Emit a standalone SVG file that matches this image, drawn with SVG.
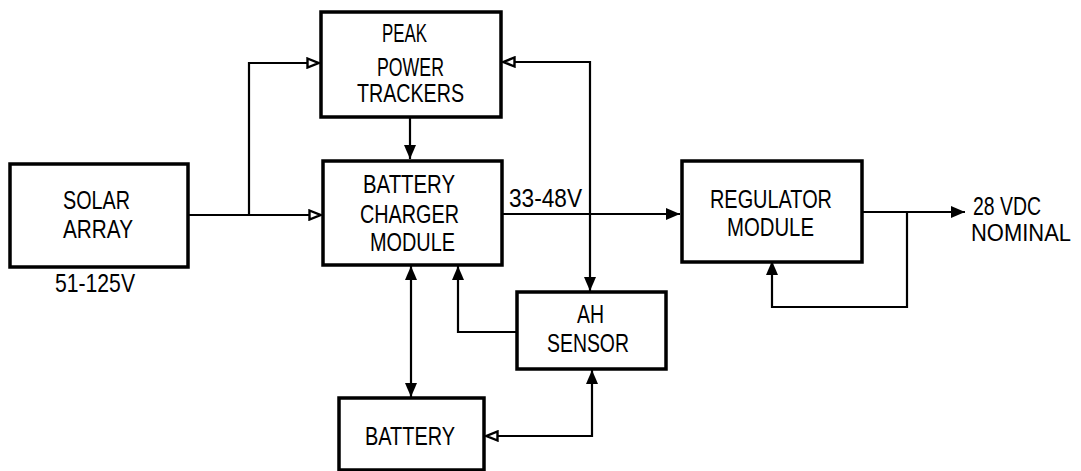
<svg xmlns="http://www.w3.org/2000/svg" width="1081" height="471" viewBox="0 0 1081 471">
<style>
.box{fill:#fff;stroke:#000;stroke-width:3.5}
.t{font-family:"Liberation Sans",Arial,sans-serif;font-size:25px;fill:#000}
.s{font-size:23px}
.c{fill:none;stroke:#000;stroke-width:2.2}
</style>
<defs>
<marker id="af" viewBox="0 0 14 12" refX="14" refY="6" markerWidth="14" markerHeight="12" markerUnits="userSpaceOnUse" orient="auto-start-reverse">
<path d="M0,0 L14,6 L0,12 z" fill="#000"/>
</marker>
<marker id="ah" viewBox="0 0 14 12" refX="13" refY="6" markerWidth="14" markerHeight="12" markerUnits="userSpaceOnUse" orient="auto-start-reverse">
<path d="M1.5,1.5 L12.5,6 L1.5,10.5 z" fill="#fff" stroke="#000" stroke-width="2.4"/>
</marker>
</defs>
<rect width="1081" height="471" fill="#fff"/>
<g id="connectors">
<path class="c" d="M188,215 H321" marker-end="url(#ah)"/>
<path class="c" d="M249,215 V63 H319" marker-end="url(#ah)"/>
<path class="c" d="M410,117 V159" marker-end="url(#af)"/>
<path class="c" d="M503,62 H590 V291" marker-start="url(#ah)" marker-end="url(#af)"/>
<path class="c" d="M502,214 H680" marker-end="url(#af)"/>
<path class="c" d="M411,266 V397" marker-start="url(#af)" marker-end="url(#af)"/>
<path class="c" d="M517,332 H458 V266" marker-end="url(#af)"/>
<path class="c" d="M486,436 H592 V370" marker-start="url(#ah)" marker-end="url(#af)"/>
<path class="c" d="M862,212 H965" marker-end="url(#af)"/>
<path class="c" d="M907,212 V307 H772 V261" marker-end="url(#af)"/>
</g>
<g id="solar-array">
<rect class="box" x="10" y="164" width="178" height="103"/>
<text class="t" x="63" y="209" textLength="67" lengthAdjust="spacingAndGlyphs">SOLAR</text>
<text class="t" x="63" y="238" textLength="70" lengthAdjust="spacingAndGlyphs">ARRAY</text>
</g>
<text class="t" x="55" y="292" textLength="80" lengthAdjust="spacingAndGlyphs">51-125V</text>
<g id="peak-power-trackers">
<rect class="box" x="321" y="12" width="180" height="105"/>
<text class="t" x="382" y="42" textLength="45" lengthAdjust="spacingAndGlyphs">PEAK</text>
<text class="t" x="377" y="76" textLength="67" lengthAdjust="spacingAndGlyphs">POWER</text>
<text class="t" x="357" y="102" textLength="107" lengthAdjust="spacingAndGlyphs">TRACKERS</text>
</g>
<g id="battery-charger-module">
<rect class="box" x="323" y="161" width="179" height="104"/>
<text class="t" x="363" y="193" textLength="92" lengthAdjust="spacingAndGlyphs">BATTERY</text>
<text class="t" x="360" y="223" textLength="99" lengthAdjust="spacingAndGlyphs">CHARGER</text>
<text class="t" x="370" y="251" textLength="85" lengthAdjust="spacingAndGlyphs">MODULE</text>
</g>
<text class="t" x="509" y="207" textLength="73" lengthAdjust="spacingAndGlyphs">33-48V</text>
<g id="regulator-module">
<rect class="box" x="682" y="161" width="180" height="101"/>
<text class="t" x="710" y="208" textLength="122" lengthAdjust="spacingAndGlyphs">REGULATOR</text>
<text class="t" x="727" y="236" textLength="87" lengthAdjust="spacingAndGlyphs">MODULE</text>
</g>
<text class="t" x="973" y="215" textLength="68" lengthAdjust="spacingAndGlyphs">28 VDC</text>
<text class="t s" x="971" y="241" textLength="100" lengthAdjust="spacingAndGlyphs">NOMINAL</text>
<g id="ah-sensor">
<rect class="box" x="517" y="292" width="149" height="77"/>
<text class="t" x="577" y="323" textLength="27" lengthAdjust="spacingAndGlyphs">AH</text>
<text class="t" x="547" y="352" textLength="82" lengthAdjust="spacingAndGlyphs">SENSOR</text>
</g>
<g id="battery">
<rect class="box" x="339" y="398" width="145" height="72"/>
<text class="t" x="365" y="445" textLength="90" lengthAdjust="spacingAndGlyphs">BATTERY</text>
</g>
</svg>
